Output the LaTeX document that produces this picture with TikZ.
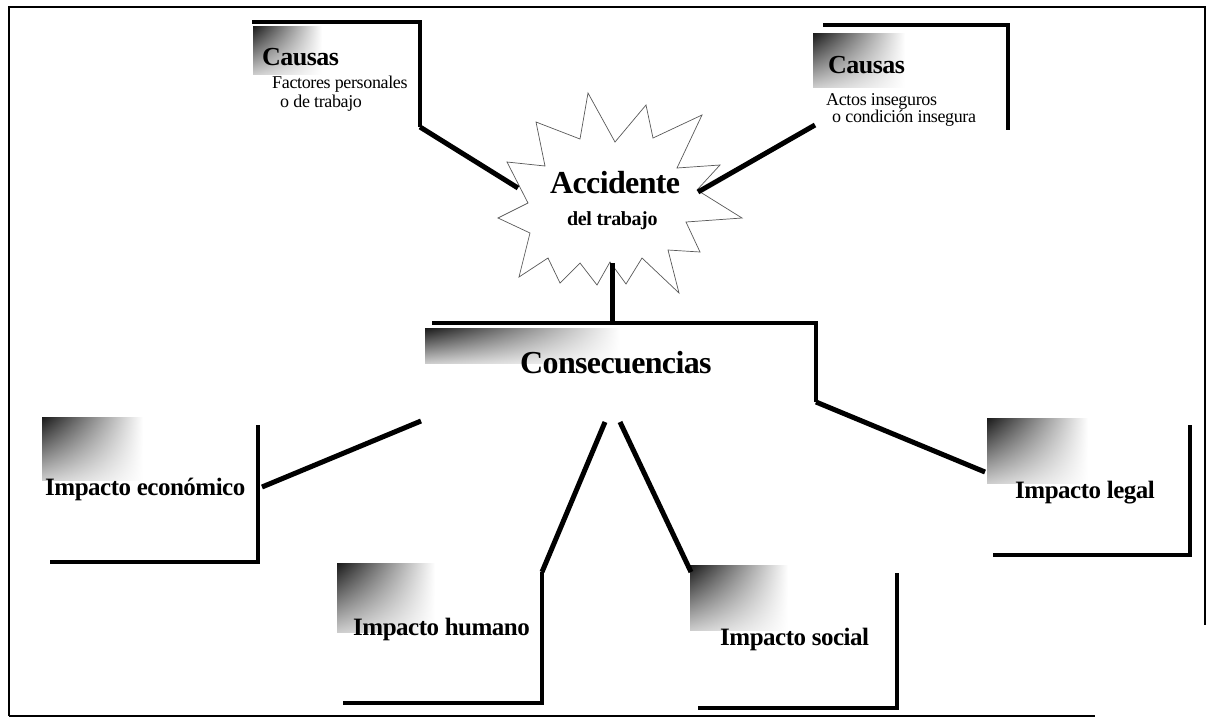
\documentclass[tikz,border=0pt]{standalone}
\usepackage{fontspec}
\usetikzlibrary{shadings}
\setmainfont{Liberation Serif}
\newfontfamily\labelfont{Liberation Serif}[LetterSpace=-2]
\begin{document}
\begin{tikzpicture}[x=1pt,y=-1pt,
  frameline/.style={line width=2pt},
  bracket/.style={line width=4.5pt},
  link/.style={line width=5pt},
  burst/.style={line width=0.7pt, draw=black!65, fill=white},
  patch/.style={upper left=black!90, upper right=white, lower left=black!20, lower right=white},
  head/.style={font=\labelfont\bfseries\fontsize{26}{28}\selectfont, inner sep=0pt, anchor=base west},
  title/.style={font=\labelfont\bfseries\fontsize{32}{34}\selectfont, inner sep=0pt, anchor=base west},
  impact/.style={font=\labelfont\bfseries\fontsize{25}{27}\selectfont, inner sep=0pt, anchor=base west},
  sub/.style={font=\labelfont\fontsize{18}{20}\selectfont, inner sep=0pt, anchor=base west},
  subbold/.style={font=\labelfont\bfseries\fontsize{20}{22}\selectfont, inner sep=0pt, anchor=base west}]
\useasboundingbox (0,0) rectangle (1212,721);

% outer frame
\draw[frameline] (9,716) -- (9,7) -- (1205,7) -- (1205,625);
\draw[frameline] (9,716) -- (1095,716);

% central burst
\draw[burst] (536,122) -- (580,139) -- (588,93) -- (615,142) -- (646,105) -- (653,138)
  -- (702,115) -- (677,168) -- (720,165) -- (697,190) -- (742,218) -- (686,222)
  -- (700,252) -- (668,250) -- (679,293) -- (642,258) -- (626,284) -- (610,262)
  -- (597,285) -- (580,263) -- (560,283) -- (548,258) -- (519,277) -- (530,233)
  -- (498,218) -- (528,203) -- (507,162) -- (545,166) -- cycle;
\coordinate (starL) at (518,188);
\coordinate (starR) at (698,192);
\coordinate (starB) at (612,263);
\node[title] (acc) at (550,193) {Accidente};
\node[subbold] (acc2) at (567,225) {del trabajo};

% causes, left
\shade[patch] (253,26) rectangle (322,74);
\node[head] (causasL) at (262,65) {Causas};
\node[sub] (factL) at (272,88) {Factores personales};
\node[sub] (factL2) at (280,107) {o de trabajo};
\draw[bracket] (252,22) -- (420,22) -- (420,127) coordinate (cL);

% causes, right
\shade[patch] (813,33) rectangle (905,87);
\node[head] (causasR) at (828,73) {Causas};
\node[sub] (actR) at (826,105) {Actos inseguros};
\node[sub] (actR2) at (832,122) {o condición insegura};
\draw[bracket] (823,25) -- (1008,25) -- (1008,130);
\coordinate (cR) at (815,125);

% consequences
\shade[patch] (425,328) rectangle (620,363);
\node[title] (cons) at (520,373) {Consecuencias};
\draw[bracket] (432,323) -- (816,323) -- (816,402) coordinate (consR);
\coordinate (consT) at (612,323);
\coordinate (consL) at (421,421);
\coordinate (consBL) at (605,422);
\coordinate (consBR) at (620,422);

% economic impact
\shade[patch] (42,417) rectangle (143,480);
\node[impact] (eco) at (45,495) {Impacto económico};
\draw[bracket] (50,562) -- (258,562) -- (258,425);
\coordinate (ecoC) at (262,487);

% human impact
\shade[patch] (337,563) rectangle (435,632);
\node[impact] (hum) at (353,635) {Impacto humano};
\draw[bracket] (343,703) -- (542,703) -- (542,572) coordinate (humC);

% social impact
\shade[patch] (690,565) rectangle (788,630);
\node[impact] (soc) at (720,645) {Impacto social};
\draw[bracket] (698,708) -- (897,708) -- (897,573);
\coordinate (socC) at (691,572);

% legal impact
\shade[patch] (987,418) rectangle (1088,483);
\node[impact] (leg) at (1015,498) {Impacto legal};
\draw[bracket] (993,555) -- (1190,555) -- (1190,425);
\coordinate (legC) at (985,472);

% connectors
\draw[link] (cL) -- (starL);
\draw[link] (starR) -- (cR);
\draw[link] (starB) -- (consT);
\draw[link] (consL) -- (ecoC);
\draw[link] (consBL) -- (humC);
\draw[link] (consBR) -- (socC);
\draw[link] (consR) -- (legC);
\end{tikzpicture}
\end{document}
